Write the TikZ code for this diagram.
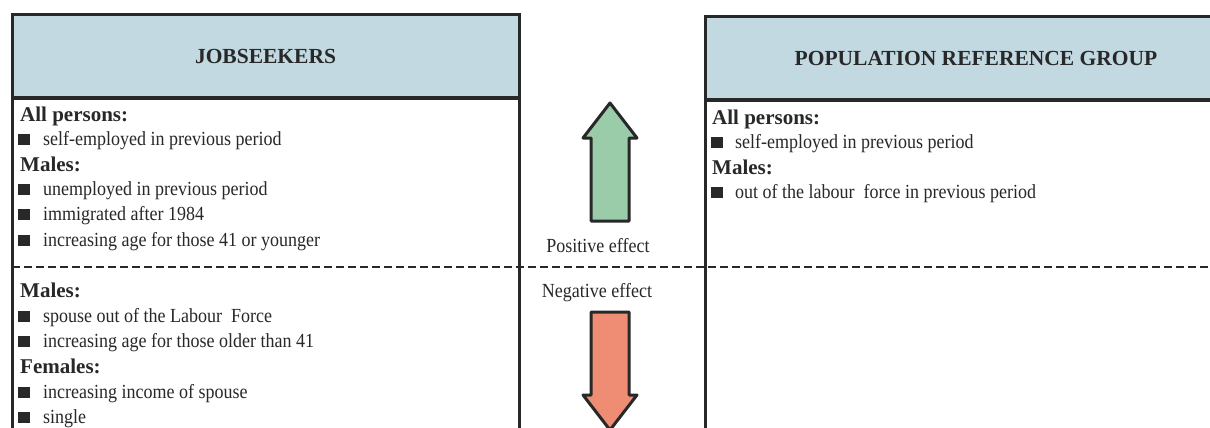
\documentclass[tikz,border=0pt]{standalone}
\usepackage{fontspec}
\setmainfont{Liberation Serif}
\newfontfamily\tallserif[FakeStretch=0.9]{Liberation Serif}
\usetikzlibrary{positioning}

\definecolor{headblue}{RGB}{194,217,226}
\definecolor{upgreen}{RGB}{155,204,170}
\definecolor{downred}{RGB}{238,140,116}
\definecolor{edge}{RGB}{40,40,40}

\begin{document}
\begin{tikzpicture}[x=1pt, y=-1pt,
    headbox/.style={draw=edge, line width=3pt, fill=headblue, text=edge, font=\fontsize{21.5}{24}\selectfont\bfseries},
    bodybox/.style={draw=edge, line width=3pt},
    grp/.style={anchor=base west, inner sep=0pt, text=edge, font=\fontsize{21}{24}\selectfont\bfseries},
    item/.style={anchor=base west, inner sep=0pt, text=edge, font=\tallserif\fontsize{20}{22}\selectfont},
    effect/.style={anchor=base, inner sep=0pt, text=edge, font=\tallserif\fontsize{20}{22}\selectfont},
    bul/.style={fill=edge, minimum width=12pt, minimum height=11pt, inner sep=0pt},
    arrowbox/.style={draw=edge, line width=3pt, line join=round},
    divider/.style={draw=edge, line width=2pt, dash pattern=on 8pt off 4pt}]
  \clip (0,0) rectangle (1210,428);

  % Jobseekers
  \node[bodybox, minimum width=507, minimum height=400, anchor=north] (jsbody) at (265.5,97) {};
  \node[headbox, minimum width=507, minimum height=82] (js) at (265.5,56) {JOBSEEKERS};

  % Population reference group
  \node[bodybox, minimum width=542, minimum height=400, anchor=north] (prbody) at (976,99) {};
  \node[headbox, minimum width=542, minimum height=82] (pr) at (976,58) {POPULATION REFERENCE GROUP};

  % positive / negative split
  \coordinate (divL) at (12,267);
  \coordinate (divR) at (1210,267);
  \draw[divider] (divL) -- (divR);

  % Jobseekers, positive
  \node[grp] (jsall) at (20,121) {All persons:};
  \node[grp] (jsmale) at (20,171) {Males:};
  \foreach \n/\y/\t in {1/145/self-employed in previous period,
                        2/195/unemployed in previous period,
                        3/220/immigrated after 1984,
                        4/246/increasing age for those 41 or younger} {
    \node[bul] (jsb\n) at (24,\y-5.5) {};
    \node[item] (jst\n) at (43,\y) {\t};
  }

  % Jobseekers, negative
  \node[grp] (jsmale2) at (20,297) {Males:};
  \node[grp] (jsfem) at (20,373) {Females:};
  \foreach \n/\y/\t in {5/322/spouse out of the Labour\ \ Force,
                        6/347/increasing age for those older than 41,
                        7/398/increasing income of spouse,
                        8/423/single} {
    \node[bul] (jsb\n) at (24,\y-5.5) {};
    \node[item] (jst\n) at (43,\y) {\t};
  }

  % Reference group, positive
  \node[grp] (prall) at (712,124) {All persons:};
  \node[grp] (prmale) at (712,174) {Males:};
  \foreach \n/\y/\t in {1/148/self-employed in previous period,
                        2/198/out of the labour\ \ force in previous period} {
    \node[bul] (prb\n) at (716.5,\y-5.5) {};
    \node[item] (prt\n) at (735,\y) {\t};
  }

  % effect arrows
  \draw[arrowbox, fill=upgreen] (591,221) -- (591,138) -- (583,138) -- (610,103)
    -- (637,138) -- (629,138) -- (629,221) -- cycle;
  \node[effect] (pos) at (598,252) {Positive effect};
  \node[effect] (neg) at (597,297) {Negative effect};
  \draw[arrowbox, fill=downred] (591,312) -- (629,312) -- (629,395) -- (637,395)
    -- (610,430) -- (583,395) -- (591,395) -- cycle;
\end{tikzpicture}
\end{document}
